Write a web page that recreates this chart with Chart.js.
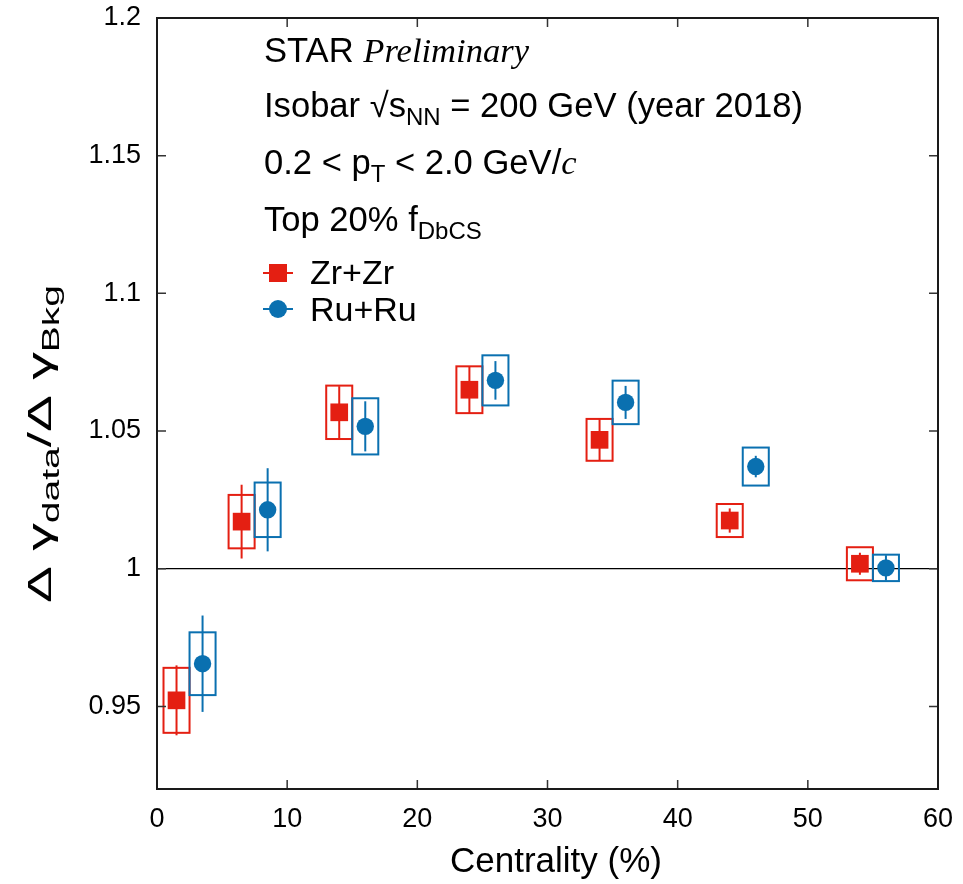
<!DOCTYPE html>
<html>
<head>
<meta charset="utf-8">
<script src="https://cdn.jsdelivr.net/npm/chart.js@4.4.0/dist/chart.umd.min.js"></script>
<style>
  html, body { margin: 0; padding: 0; background: #fff; }
</style>
</head>
<body>
<canvas id="isobarChart" width="963" height="884"></canvas>
<script>
// centrality bins (%), Zr and Ru points are shifted left / right of the bin centre
var zrX = [1.5, 6.5, 14, 24, 34, 44, 54];
var zrY = [0.9522, 1.0171, 1.0568, 1.0650, 1.0468, 1.0175, 1.0018];
var zrStat = [0.0127, 0.0134, 0.0095, 0.0085, 0.0075, 0.0044, 0.0040];
var zrSys = [0.0118, 0.0097, 0.0097, 0.0085, 0.0076, 0.0060, 0.0060];

var ruX = [3.5, 8.5, 16, 26, 36, 46, 56];
var ruY = [0.9655, 1.0214, 1.0517, 1.0684, 1.0604, 1.0371, 1.0003];
var ruStat = [0.0175, 0.0151, 0.0091, 0.0070, 0.0060, 0.0039, 0.0046];
var ruSys = [0.0114, 0.0099, 0.0102, 0.0091, 0.0079, 0.0069, 0.0048];

var xTicks = [0, 10, 20, 30, 40, 50, 60];
var xTickLabels = ['0', '10', '20', '30', '40', '50', '60'];
var yTicks = [0.95, 1, 1.05, 1.1, 1.15, 1.2];
var yTickLabels = ['0.95', '1', '1.05', '1.1', '1.15', '1.2'];

var RED = '#e41f12';
var BLUE = '#0a70b0';
var SANS = '"Liberation Sans", Arial, Helvetica, sans-serif';
var SERIF = '"Liberation Serif", "Times New Roman", serif';
var sysHalfWidth = 1; // half width of systematic boxes, in centrality units

var series = [
  { x: zrX, y: zrY, stat: zrStat, sys: zrSys, color: RED },
  { x: ruX, y: ruY, stat: ruStat, sys: ruSys, color: BLUE }
];

function toPoints(xs, ys) {
  return xs.map(function (x, i) { return { x: x, y: ys[i] }; });
}

function partsWidth(ctx, parts) {
  var total = 0;
  parts.forEach(function (p) { ctx.font = p.font; total += ctx.measureText(p.t).width; });
  return total;
}

// draw a run of text pieces, each with its own font and vertical shift
function drawParts(ctx, parts, x, y, align) {
  var cx = align === 'center' ? x - partsWidth(ctx, parts) / 2 : x;
  parts.forEach(function (p) {
    ctx.font = p.font;
    ctx.fillText(p.t, cx, y + (p.dy || 0));
    cx += ctx.measureText(p.t).width;
  });
}

var starDecor = {
  id: 'starDecor',
  beforeDatasetsDraw: function (chart) {
    var ctx = chart.ctx, xs = chart.scales.x, ys = chart.scales.y, a = chart.chartArea;
    ctx.save();
    ctx.beginPath();
    ctx.rect(a.left, a.top, a.right - a.left, a.bottom - a.top);
    ctx.clip();

    // reference line at unity
    var y1 = ys.getPixelForValue(1);
    ctx.strokeStyle = '#000';
    ctx.lineWidth = 1.2;
    ctx.beginPath();
    ctx.moveTo(a.left, y1);
    ctx.lineTo(a.right, y1);
    ctx.stroke();

    series.forEach(function (s) {
      ctx.strokeStyle = s.color;
      ctx.lineWidth = 2;
      for (var i = 0; i < s.x.length; i++) {
        var x0 = xs.getPixelForValue(s.x[i] - sysHalfWidth);
        var x1 = xs.getPixelForValue(s.x[i] + sysHalfWidth);
        var yt = ys.getPixelForValue(s.y[i] + s.sys[i]);
        var yb = ys.getPixelForValue(s.y[i] - s.sys[i]);
        ctx.strokeRect(x0, yt, x1 - x0, yb - yt);

        var xc = xs.getPixelForValue(s.x[i]);
        ctx.beginPath();
        ctx.moveTo(xc, ys.getPixelForValue(s.y[i] + s.stat[i]));
        ctx.lineTo(xc, ys.getPixelForValue(s.y[i] - s.stat[i]));
        ctx.stroke();
      }
    });
    ctx.restore();
  },
  afterDraw: function (chart) {
    var ctx = chart.ctx, xs = chart.scales.x, ys = chart.scales.y, a = chart.chartArea;
    ctx.save();

    // inward ticks on all four sides
    ctx.strokeStyle = '#333';
    ctx.lineWidth = 1.5;
    ctx.beginPath();
    xTicks.forEach(function (v) {
      var px = xs.getPixelForValue(v);
      ctx.moveTo(px, a.bottom); ctx.lineTo(px, a.bottom - 9);
      ctx.moveTo(px, a.top); ctx.lineTo(px, a.top + 9);
    });
    yTicks.forEach(function (v) {
      var py = ys.getPixelForValue(v);
      ctx.moveTo(a.left, py); ctx.lineTo(a.left + 9, py);
      ctx.moveTo(a.right, py); ctx.lineTo(a.right - 9, py);
    });
    ctx.stroke();

    // frame
    ctx.strokeStyle = '#1a1a1a';
    ctx.lineWidth = 2;
    ctx.strokeRect(a.left, a.top, a.right - a.left, a.bottom - a.top);

    // annotations
    ctx.fillStyle = '#000';
    ctx.textBaseline = 'alphabetic';
    ctx.textAlign = 'left';
    var big = '34.6px ' + SANS, sub = '24px ' + SANS;
    drawParts(ctx, [
      { t: 'STAR ', font: big },
      { t: 'Preliminary', font: 'italic 34.6px ' + SERIF }
    ], 264, 62);
    drawParts(ctx, [
      { t: 'Isobar \u221As', font: big },
      { t: 'NN', font: sub, dy: 8 },
      { t: ' = 200 GeV (year 2018)', font: big }
    ], 264, 117);
    drawParts(ctx, [
      { t: '0.2 < p', font: big },
      { t: 'T', font: sub, dy: 8 },
      { t: ' < 2.0 GeV/', font: big },
      { t: 'c', font: 'italic 34.6px ' + SERIF }
    ], 264, 174);
    drawParts(ctx, [
      { t: 'Top 20% f', font: big },
      { t: 'DbCS', font: sub, dy: 8 }
    ], 264, 231);

    // legend
    ctx.lineWidth = 2;
    ctx.strokeStyle = RED;
    ctx.beginPath(); ctx.moveTo(263, 273); ctx.lineTo(293, 273); ctx.stroke();
    ctx.fillStyle = RED;
    ctx.fillRect(269, 264, 18, 18);
    ctx.strokeStyle = BLUE;
    ctx.beginPath(); ctx.moveTo(263, 309); ctx.lineTo(293, 309); ctx.stroke();
    ctx.fillStyle = BLUE;
    ctx.beginPath(); ctx.arc(278, 309, 9, 0, Math.PI * 2); ctx.fill();
    ctx.fillStyle = '#000';
    ctx.font = '34px ' + SANS;
    ctx.fillText('Zr+Zr', 310, 284);
    ctx.fillText('Ru+Ru', 310, 321);

    // x axis title
    drawParts(ctx, [{ t: 'Centrality (%)', font: '35px ' + SANS }], 556, 872, 'center');

    // y axis title, stretched along its length like the original
    var yTitle = [
      { t: '\u0394 \u03B3', font: '34px ' + SANS },
      { t: 'data', font: '24px ' + SANS, dy: 8 },
      { t: '/\u0394 \u03B3', font: '34px ' + SANS },
      { t: 'Bkg', font: '24px ' + SANS, dy: 8 }
    ];
    var stretch = 318 / partsWidth(ctx, yTitle);
    ctx.translate(51, 444);
    ctx.rotate(-Math.PI / 2);
    ctx.scale(stretch, 1);
    drawParts(ctx, yTitle, 0, 0, 'center');
    ctx.restore();
  }
};

var ctx = document.getElementById('isobarChart').getContext('2d');
var isobarChart = new Chart(ctx, {
  type: 'scatter',
  data: {
    datasets: [{
      label: 'Zr+Zr',
      data: toPoints(zrX, zrY),
      pointStyle: 'rect',
      pointRadius: 12.5,
      backgroundColor: RED,
      borderColor: RED,
      borderWidth: 0
    }, {
      label: 'Ru+Ru',
      data: toPoints(ruX, ruY),
      pointStyle: 'circle',
      pointRadius: 8.7,
      backgroundColor: BLUE,
      borderColor: BLUE,
      borderWidth: 0
    }]
  },
  options: {
    responsive: false,
    animation: false,
    layout: { padding: { top: 18, right: 25, left: 0, bottom: 0 } },
    plugins: {
      legend: { display: false },
      tooltip: { enabled: false }
    },
    scales: {
      x: {
        type: 'linear',
        min: 0,
        max: 60,
        grid: { display: false, drawTicks: false },
        border: { display: false },
        afterBuildTicks: function (scale) {
          scale.ticks = xTicks.map(function (v) { return { value: v }; });
        },
        afterFit: function (scale) {
          scale.height = 95;
          scale.paddingLeft = 0;
          scale.paddingRight = 0;
        },
        ticks: {
          padding: 14,
          color: '#000',
          font: { family: SANS, size: 27 },
          callback: function (v, i) { return xTickLabels[i]; }
        }
      },
      y: {
        type: 'linear',
        min: 0.92,
        max: 1.2,
        grid: { display: false, drawTicks: false },
        border: { display: false },
        afterBuildTicks: function (scale) {
          scale.ticks = yTicks.map(function (v) { return { value: v }; });
        },
        afterFit: function (scale) {
          scale.width = 157;
          scale.paddingTop = 0;
          scale.paddingBottom = 0;
        },
        ticks: {
          padding: 16,
          color: '#000',
          font: { family: SANS, size: 27 },
          callback: function (v, i) { return yTickLabels[i]; }
        }
      }
    }
  },
  plugins: [starDecor]
});
</script>
</body>
</html>
